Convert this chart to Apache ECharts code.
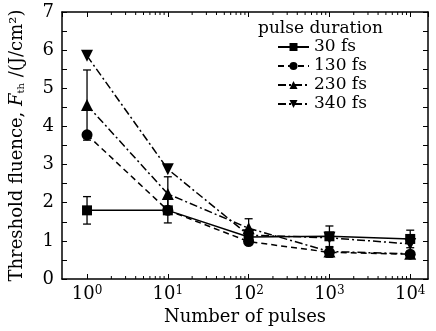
<!DOCTYPE html>
<html>
<head>
<meta charset="UTF-8">
<title>threshold fluence</title>
<script src="https://cdn.jsdelivr.net/npm/echarts@6/dist/echarts.min.js"></script>
<style>
  html, body { margin: 0; padding: 0; background: #fff; }
  #main { width: 436px; height: 331px; }
</style>
</head>
<body>
<div id="main"></div>
<script>
// number of pulses (x) and threshold fluence per pulse duration
var pulses = [1, 10, 100, 1000, 10000];
var names = ['30 fs', '130 fs', '230 fs', '340 fs'];
var f30  = [1.80, 1.80, 1.10, 1.12, 1.05];
var f130 = [3.78, 1.80, 0.98, 0.70, 0.65];
var f230 = [4.56, 2.23, 1.33, 0.72, 0.66];
var f340 = [5.85, 2.88, 1.15, 1.08, 0.92];
// error bar half widths (0 = none drawn)
var e30  = [0.36, 0.33, 0.15, 0.27, 0.23];
var e130 = [0, 0, 0, 0.13, 0];
var e230 = [0.92, 0.45, 0.25, 0, 0];
var e340 = [0, 0, 0, 0, 0];
// minor tick positions on the log axis
var decades = [1, 10, 100, 1000];
var mult = [2, 3, 4, 5, 6, 7, 8, 9];

var FONT = 'DejaVu Serif';
var values = [f30, f130, f230, f340];
var errs = [e30, e130, e230, e340];
var symbols = ['rect', 'circle', 'triangle', 'triangle'];
var symSize = [10, 11, 12, 12];
var rotate = [0, 0, 0, 180];
var dashes = ['solid', [6, 4], [8, 3, 2, 3], [8, 3, 2, 3]];

var series = [];
var errData = [];
for (var s = 0; s < names.length; s++) {
    var d = [];
    for (var i = 0; i < pulses.length; i++) {
        d.push([pulses[i], values[s][i]]);
        if (errs[s][i] > 0) errData.push([pulses[i], values[s][i], errs[s][i]]);
    }
    series.push({
        name: names[s],
        type: 'line',
        data: d,
        symbol: symbols[s],
        symbolSize: symSize[s],
        symbolRotate: rotate[s],
        itemStyle: { color: '#000' },
        lineStyle: { color: '#000', width: 1.5, type: dashes[s] },
        z: 3
    });
}

var minorData = [];
decades.forEach(function (dd) {
    mult.forEach(function (m) { minorData.push([m * dd, 0]); });
});

// error bars with caps
series.push({
    type: 'custom',
    data: errData,
    z: 2,
    renderItem: function (params, api) {
        var hi = api.coord([api.value(0), api.value(1) + api.value(2)]);
        var lo = api.coord([api.value(0), api.value(1) - api.value(2)]);
        var st = { stroke: '#000', lineWidth: 1.3 };
        return {
            type: 'group',
            children: [
                { type: 'line', shape: { x1: hi[0], y1: hi[1], x2: lo[0], y2: lo[1] }, style: st },
                { type: 'line', shape: { x1: hi[0] - 4, y1: hi[1], x2: hi[0] + 4, y2: hi[1] }, style: st },
                { type: 'line', shape: { x1: lo[0] - 4, y1: lo[1], x2: lo[0] + 4, y2: lo[1] }, style: st }
            ]
        };
    }
});

// minor log ticks on bottom and top axes
series.push({
    type: 'custom',
    data: minorData,
    silent: true,
    renderItem: function (params, api) {
        var b = api.coord([api.value(0), 0]);
        var t = api.coord([api.value(0), 7]);
        var st = { stroke: '#000', lineWidth: 1 };
        return {
            type: 'group',
            children: [
                { type: 'line', shape: { x1: b[0], y1: b[1], x2: b[0], y2: b[1] - 3 }, style: st },
                { type: 'line', shape: { x1: t[0], y1: t[1], x2: t[0], y2: t[1] + 3 }, style: st }
            ]
        };
    }
});

var axisLine = { show: true, onZero: false, lineStyle: { color: '#000', width: 1.5 } };
var tick = { show: true, inside: true, length: 5, lineStyle: { color: '#000', width: 1 } };

function xAx(pos, labels) {
    return {
        type: 'log',
        logBase: 10,
        position: pos,
        min: 0.49,
        max: 16600,
        axisLine: axisLine,
        axisTick: tick,
        splitLine: { show: false },
        name: labels ? 'Number of pulses' : '',
        nameLocation: 'middle',
        nameGap: 27,
        nameTextStyle: { fontFamily: FONT, fontSize: 18, color: '#000' },
        axisLabel: {
            show: labels,
            showMinLabel: false,
            showMaxLabel: false,
            margin: 6,
            fontFamily: FONT,
            fontSize: 18,
            color: '#000',
            formatter: function (v) {
                return '10{s|' + Math.round(Math.log10(v)) + '}';
            },
            rich: { s: { fontFamily: FONT, fontSize: 12, verticalAlign: 'top', color: '#000' } }
        }
    };
}

function yAx(pos, labels) {
    return {
        type: 'value',
        position: pos,
        min: 0,
        max: 7,
        interval: 1,
        axisLine: axisLine,
        axisTick: tick,
        minorTick: { show: true, splitNumber: 2, length: 5, lineStyle: { color: '#000', width: 1 } },
        splitLine: { show: false },
        name: labels ? 'Threshold fluence, {i|F}{sub|th} /(J/cm²)' : '',
        nameLocation: 'middle',
        nameGap: 36,
        nameTextStyle: {
            fontFamily: FONT, fontSize: 18, color: '#000',
            rich: {
                i: { fontFamily: FONT, fontSize: 18, fontStyle: 'italic', color: '#000' },
                sub: { fontFamily: FONT, fontSize: 10, verticalAlign: 'bottom', color: '#000' }
            }
        },
        axisLabel: { show: labels, margin: 8, fontFamily: FONT, fontSize: 18, color: '#000' }
    };
}

var myChart = echarts.init(document.getElementById('main'));
var option = {
    animation: false,
    backgroundColor: '#fff',
    grid: { left: 61, right: 8, top: 12, bottom: 52 },
    title: {
        text: 'pulse duration',
        left: 258,
        top: 20,
        padding: 0,
        textStyle: { fontFamily: FONT, fontSize: 17, fontWeight: 'normal', color: '#000' }
    },
    legend: {
        data: names,
        orient: 'vertical',
        left: 277,
        top: 38,
        padding: 0,
        itemWidth: 31,
        itemHeight: 10,
        itemGap: 1,
        textStyle: { fontFamily: FONT, fontSize: 17, color: '#000', lineHeight: 18 }
    },
    xAxis: [xAx('bottom', true), xAx('top', false)],
    yAxis: [yAx('left', true), yAx('right', false)],
    series: series
};
myChart.setOption(option);
</script>
</body>
</html>
